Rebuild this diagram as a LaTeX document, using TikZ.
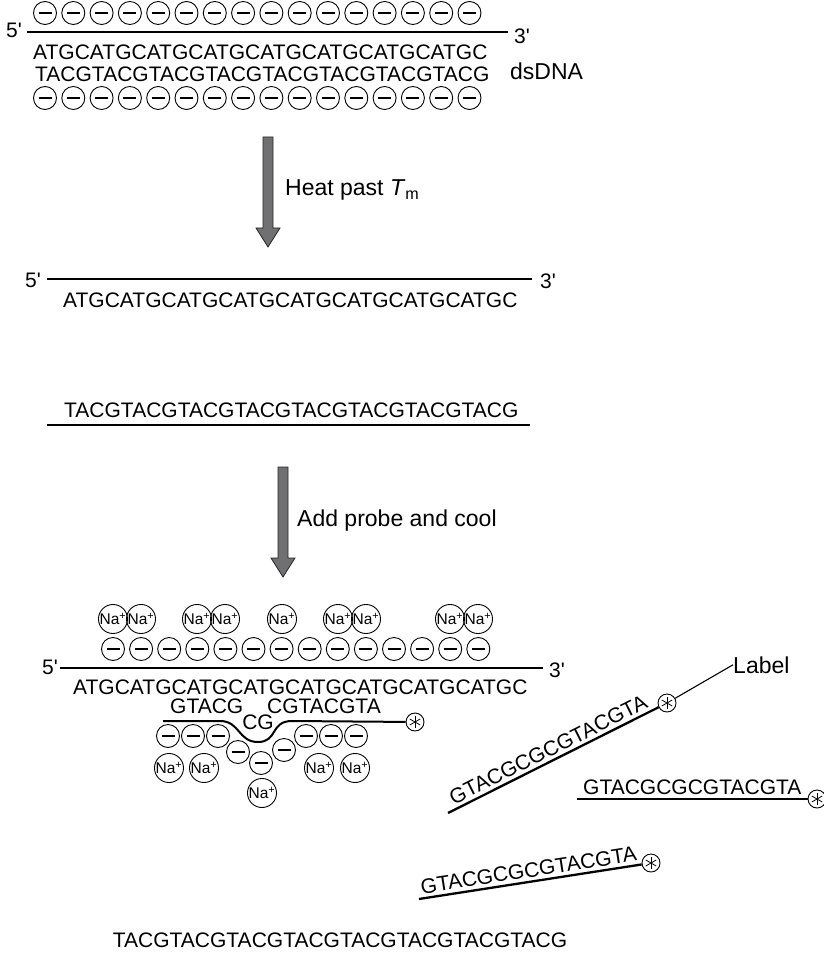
\documentclass[tikz,border=0pt]{standalone}
\usepackage{fontspec}
\setmainfont{Liberation Sans}

\tikzset{
  strand/.style={line width=2.3pt},
  neg/.style={circle, draw, line width=0.9pt, minimum size=23pt, inner sep=0pt,
    path picture={\draw[line width=2pt] ([xshift=-6.5pt]path picture bounding box.center) -- ([xshift=6.5pt]path picture bounding box.center);}},
  na/.style={circle, draw, line width=0.9pt, minimum size=28pt, inner sep=0pt, font=\fontsize{15.5}{15.5}\selectfont},
  tag/.style={circle, draw, line width=0.9pt, minimum size=18pt, inner sep=0pt,
    path picture={\foreach \a in {30,90,150} \draw[line width=0.8pt] (path picture bounding box.center) ++(\a:6pt) -- ++(\a+180:12pt);}},
  seq/.style={inner sep=0pt, font=\fontsize{21}{23}\selectfont},
  prime/.style={inner sep=0pt, font=\fontsize{21}{23}\selectfont},
  lbl/.style={inner sep=0pt, font=\fontsize{23}{26}\selectfont},
  blockarrow/.style={fill={rgb,255:red,112;green,112;blue,114}, draw=black!85, line width=0.8pt, line join=miter}
}

\begin{document}
\begin{tikzpicture}[x=1pt, y=-1pt]
\useasboundingbox (0,0) rectangle (823,968);

% double strand with its charges
\foreach \i in {0,...,15} {
  \node[neg] (nt\i) at ({45+28.3*\i}, 13) {};
  \node[neg] (nb\i) at ({45+28.3*\i}, 98) {};
}
\coordinate (sA) at (27,32);
\coordinate (eA) at (508,32);
\draw[strand] (sA) -- (eA);
\node[prime] (fiveA) at (14,30) {5\textquotesingle};
\node[prime] (threeA) at (522,36) {3\textquotesingle};
\node[seq, anchor=west] (topA) at (33,52) {ATGCATGCATGCATGCATGCATGCATGCATGC};
\node[seq, anchor=west] (botA) at (35,74) {TACGTACGTACGTACGTACGTACGTACGTACG};
\node[lbl, anchor=base west] (ds) at (510,80) {dsDNA};

% melting
\draw[blockarrow] (263,137) -- (273,137) -- (273,228) -- (280,228) -- (268,247)
  -- (256,228) -- (263,228) -- cycle;
\node[lbl, anchor=base west] (heat) at (285,196) {Heat past \textit{T}\textsubscript{m}};

% separated strands
\coordinate (sB) at (47,279);
\coordinate (eB) at (532,279);
\draw[strand] (sB) -- (eB);
\node[prime] (fiveB) at (33,280) {5\textquotesingle};
\node[prime] (threeB) at (548,281) {3\textquotesingle};
\node[seq, anchor=west] (topB) at (63,300) {ATGCATGCATGCATGCATGCATGCATGCATGC};
\node[seq, anchor=west] (botB) at (64,410) {TACGTACGTACGTACGTACGTACGTACGTACG};
\coordinate (sC) at (47,425);
\coordinate (eC) at (530,425);
\draw[strand] (sC) -- (eC);

% annealing
\draw[blockarrow] (278,467) -- (288,467) -- (288,558) -- (295,558) -- (283,577)
  -- (271,558) -- (278,558) -- cycle;
\node[lbl, anchor=base west] (cool) at (297,526) {Add probe and cool};

% target strand, counter ions above
\foreach \x [count=\k] in {113,141,197,225,282,338,366,450,478}
  \node[na] (nu\k) at (\x,619) {Na\textsuperscript{+}};
\foreach \i in {0,...,13}
  \node[neg] (nc\i) at ({113+28.1*\i}, 649) {};
\coordinate (sD) at (60,668);
\coordinate (eD) at (543,668);
\draw[strand] (sD) -- (eD);
\node[prime] (fiveD) at (50,667) {5\textquotesingle};
\node[prime] (threeD) at (557,670) {3\textquotesingle};
\node[seq, anchor=west] (topD) at (73,687) {ATGCATGCATGCATGCATGCATGCATGCATGC};

% bound probe with the CG loop
\node[seq, anchor=west] (pl) at (170,706) {GTACG};
\node[seq, anchor=west] (pr) at (267,706) {CGTACGTA};
\node[seq] (loop) at (258,722) {CG};
\node[tag] (tagD) at (415,722) {};
\coordinate (sP) at (163,721);
\draw[line width=2pt] (sP) -- (220,721) .. controls (240,721) and (238,742) .. (258,742)
  .. controls (278,742) and (270,721) .. (292,721) -- (tagD);
\foreach \x/\y [count=\k] in {168/736,193/736,218/736,238/752,261/763,284/750,306/736,331/736,356/736}
  \node[neg] (np\k) at (\x,\y) {};
\foreach \x/\y [count=\k] in {169/768,204/768,319/768,355/768,262/793}
  \node[na] (nl\k) at (\x,\y) {Na\textsuperscript{+}};

% free probes
\node[tag] (tagA) at (667,703) {};
\coordinate (pA) at (448,813);
\draw[strand] (pA) -- node[seq, sloped, above=3pt] (seqA) {GTACGCGCGTACGTA} (tagA);
\node[lbl, anchor=base west] (label) at (733,673) {Label};
\draw[line width=1.1pt] (tagA) -- (label.west);

\node[tag] (tagB) at (817,799) {};
\coordinate (pB) at (577,799);
\draw[strand] (pB) -- node[seq, above=3pt] (seqB) {GTACGCGCGTACGTA} (tagB);

\node[tag] (tagC) at (651,863) {};
\coordinate (pC) at (419,899);
\draw[strand] (pC) -- node[seq, sloped, above=3pt] (seqC) {GTACGCGCGTACGTA} (tagC);

% second strand left alone
\node[seq] (botE) at (340,940) {TACGTACGTACGTACGTACGTACGTACGTACG};
\end{tikzpicture}
\end{document}
